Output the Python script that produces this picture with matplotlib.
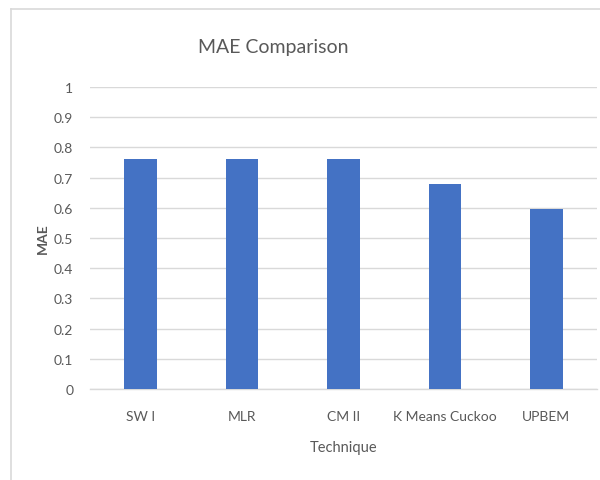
import matplotlib
matplotlib.use("Agg")
import matplotlib.pyplot as plt

techniques = ["SW I", "MLR", "CM II", "K Means Cuckoo", "UPBEM"]
mae_values = [0.76, 0.76, 0.76, 0.68, 0.595]
y_ticks = [0, 0.1, 0.2, 0.3, 0.4, 0.5, 0.6, 0.7, 0.8, 0.9, 1]
y_tick_labels = ["0", "0.1", "0.2", "0.3", "0.4", "0.5", "0.6", "0.7", "0.8", "0.9", "1"]

plt.rcParams["font.family"] = ["Lato", "DejaVu Sans"]
text_color = "#595959"

fig = plt.figure(figsize=(6.0, 4.81), dpi=100)
fig.patch.set_facecolor("white")

# chart-area frame (open at the bottom and right)
W, H = 600, 481
fig.add_artist(plt.Line2D([11 / W, 11 / W], [0, 1 - 10 / H], transform=fig.transFigure,
                          color="#D9D9D9", lw=1.2))
fig.add_artist(plt.Line2D([11 / W, 1], [1 - 10 / H, 1 - 10 / H], transform=fig.transFigure,
                          color="#D9D9D9", lw=1.2))

ax = fig.add_axes([90 / W, 1 - 390 / H, (597 - 90) / W, (390 - 88) / H])
ax.bar(range(len(techniques)), mae_values, width=0.32, color="#4472C4", zorder=3)

ax.set_xlim(-0.5, len(techniques) - 0.5)
ax.set_ylim(0, 1)
ax.set_yticks(y_ticks)
ax.set_yticklabels(y_tick_labels)
ax.set_xticks(range(len(techniques)))
ax.set_xticklabels(techniques)

ax.yaxis.grid(True, color="#D9D9D9", lw=1, zorder=0)
for side in ["top", "right", "left"]:
    ax.spines[side].set_visible(False)
ax.spines["bottom"].set_color("#D9D9D9")
ax.spines["bottom"].set_linewidth(1)
ax.tick_params(axis="both", length=0, colors=text_color, labelsize=10)
ax.tick_params(axis="y", pad=12)
ax.tick_params(axis="x", pad=15)

ax.set_ylabel("MAE", color=text_color, fontsize=10, fontweight="bold", labelpad=4)
ax.set_xlabel("Technique", color=text_color, fontsize=10.5, labelpad=13)
fig.text(273 / W, 1 - 47 / H, "MAE Comparison",
         ha="center", va="center", fontsize=14, color=text_color)

fig.savefig("out.png", dpi=100, facecolor="white")
